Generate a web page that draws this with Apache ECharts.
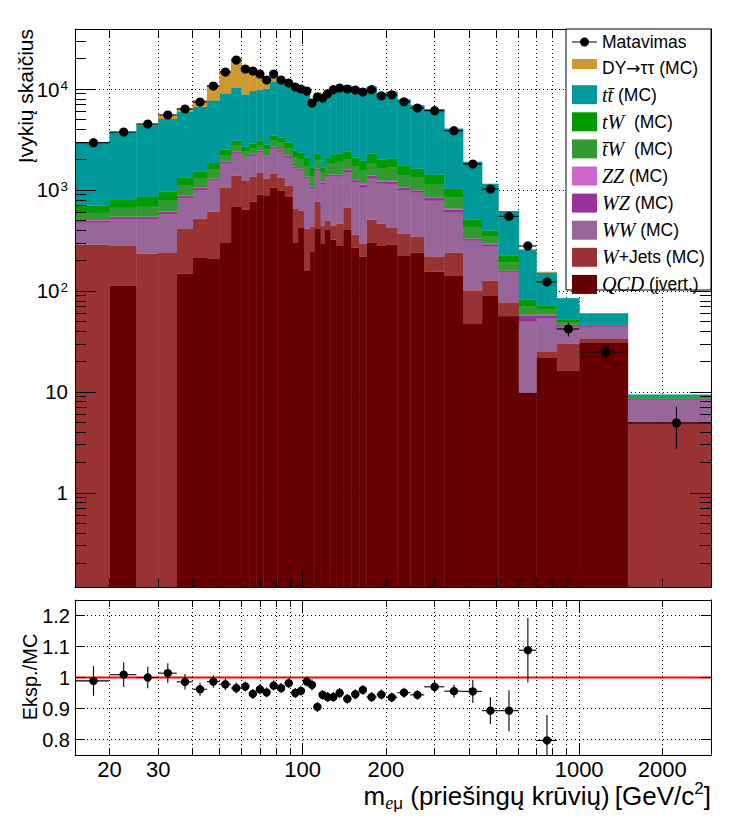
<!DOCTYPE html>
<html><head><meta charset="utf-8">
<script src="https://cdn.jsdelivr.net/npm/echarts@6/dist/echarts.min.js"></script>
<style>html,body{margin:0;padding:0;background:#fff}#c{width:748px;height:822px}</style>
</head><body><div id="c"></div>
<script>
// ---- bin edges (GeV/c^2) ----
const binEdges = [15,20,25,30,35,40,45,50,55,60,64,68,72,76,81,86,92,96,101,106,110,116,120,126,132,140,150,160,170,185,200,220,245,275,325,380,445,510,605,700,830,1000,1500,3000];

// ---- stacked MC components (events per bin) ----
const qcd = [0,113,0,0,148,214,209,301,684,638,766,897,879,1054,984,859,301,424,159,245,414,294,405,322,281,405,268,218,301,281,287,224,239,155,142,47,90,56,9.8,21.9,16.3,30.8,0];
const wjets = [287,168,234,240,266,306,401,753,703,598,589,586,415,398,340,245,352,200,255,188,352,149,92,121,182,263,93,76,207,182,137,145,106,64,97,54,36,21,0,3.2,13.8,2.9,5.08];
const wwv = [187,235,282,338,420,480,626,778,899,806,833,856,844,1112,1069,985,973,928,880,597,786,687,858,912,892,839,838,768,795,690,706,622,595,570,357,214,149,75,39.9,28.1,14.2,10.3,3.31];
const wzv = [23,21,21,24,34,40,43,65,80,61,74,82,37,91,85,74,57,55,46,37,55,58,48,48,48,61,50,68,70,62,80,53,38,42,43,11,14,5,7.5,4,1.6,0.7,0.1];
const zzv = [8,7,7,8,11,14,15,22,27,20,24,28,13,30,28,25,19,19,15,12,19,20,16,16,16,21,16,23,23,21,26,18,13,14,14,4,5,2,1,1,0.5,0.3,0.05];
const tbarW = [95,129,140,173,225,240,295,294,355,270,278,299,318,391,432,376,387,369,347,276,324,275,401,401,480,406,437,399,424,390,427,325,333,282,186,94,51,32,11.8,7.1,2.1,0.4,0.2];
const tWv = [99,129,175,179,220,224,260,293,328,292,307,328,306,375,358,374,360,344,387,308,336,180,269,419,387,398,387,398,466,369,379,355,302,289,191,84,50,33,12,6.2,3.5,1.0,0.25];
const ttbar = [2274,2915,3526,4085,4633,5165,5842,6514,7224,6105,6635,6651,7257,8325,7976,8462,8572,8110,7587,5786,6679,6970,7495,8263,8482,8348,8239,7769,8216,7063,7317,6123,5249,4873,3013,1385,751,390,174,80.5,32.3,13.2,0.36];
const dytautau = [0,0,115,407,473,1040,3150,6041,9741,7461,6408,4909,2830,2680,1440,270,0,0,0,0,250,0,0,0,0,0,0,0,0,0,0,0,0,0,0,0,0,0,0,2,0,0,0];

// ---- data ----
const dataVals = [2940,3750,4500,5530,6340,7430,10700,14730,19360,15780,15070,14080,12280,14080,12280,11460,10470,10000,9550,7270,8340,8150,8980,9840,10230,10000,9770,9330,9840,8560,8760,7480,6490,6100,3865,1808,1023,548,279,123,42,24.9,4.93];
const dataErr = [54,61,67,74,80,86,103,121,139,126,123,119,111,119,111,107,102,100,98,85,91,90,95,99,101,100,99,97,99,93,94,86,81,78,62,43,32,23,17,11,6.5,5,2.2];

// ---- ratio data / MC ----
const ratioVals = [0.989,1.009,1.000,1.014,0.986,0.962,0.987,0.978,0.966,0.971,0.947,0.962,0.952,0.974,0.966,0.982,0.950,0.957,0.987,0.976,0.905,0.944,0.937,0.937,0.950,0.931,0.946,0.960,0.937,0.945,0.936,0.951,0.944,0.970,0.956,0.955,0.893,0.893,1.088,0.797,0.50,0.42,0.54];
const ratioErr = [0.048,0.040,0.035,0.032,0.025,0.021,0.020,0.018,0.018,0.016,0.016,0.016,0.016,0.016,0.016,0.016,0.016,0.016,0.016,0.018,0.016,0.016,0.016,0.016,0.016,0.016,0.016,0.016,0.016,0.016,0.016,0.016,0.016,0.019,0.021,0.037,0.043,0.066,0.104,0.082,0.08,0.09,0.25];

// ---- ticks / labels ----
const xTickValues = [20,30,40,50,60,70,80,90,100,200,300,400,500,600,700,800,900,1000,2000];
const xMajorTicks = [100,1000];
const xTickLabels = [20,30,100,200,1000,2000];
const yMajorTicks = [1,10,100,1000,10000];
const yMinorTicks = [0.2,0.3,0.4,0.5,0.6,0.7,0.8,0.9,2,3,4,5,6,7,8,9,20,30,40,50,60,70,80,90,200,300,400,500,600,700,800,900,2000,3000,4000,5000,6000,7000,8000,9000,20000,30000];
const ratioTicks = [0.8,0.9,1,1.1,1.2];

const XMIN = 15, XMAX = 3000, YMIN = 0.117, YMAX = 39300, RMIN = 0.75, RMAX = 1.25;
const FONT = '"Liberation Sans", Arial, sans-serif';
const SERIF = '"Liberation Serif", "Times New Roman", serif';

const components = [
  {name: 'QCD (įvert.)', vals: qcd, color: '#660000'},
  {name: 'W+Jets (MC)', vals: wjets, color: '#993333'},
  {name: 'WW (MC)', vals: wwv, color: '#996699'},
  {name: 'WZ (MC)', vals: wzv, color: '#993399'},
  {name: 'ZZ (MC)', vals: zzv, color: '#cc66cc'},
  {name: 't\u0304W (MC)', vals: tbarW, color: '#339933'},
  {name: 'tW (MC)', vals: tWv, color: '#009900'},
  {name: 'tt\u0304 (MC)', vals: ttbar, color: '#009999'},
  {name: 'DY→ττ (MC)', vals: dytautau, color: '#cc9933'}
];
const legendRich = {
  'Matavimas': '{s|Matavimas}',
  'DY→ττ (MC)': '{s|DY}{a|→}{s|ττ (MC)}',
  'tt\u0304 (MC)': '{m|tt\u0304}{s| (MC)}',
  'tW (MC)': '{m|tW}{s|  (MC)}',
  't\u0304W (MC)': '{m|t\u0304W}{s|  (MC)}',
  'ZZ (MC)': '{m|ZZ}{s| (MC)}',
  'WZ (MC)': '{m|WZ}{s| (MC)}',
  'WW (MC)': '{m|WW}{s| (MC)}',
  'W+Jets (MC)': '{m|W}{s|+Jets (MC)}',
  'QCD (įvert.)': '{m|QCD}{s| (įvert.)}'
};
const legendOrder = ['Matavimas','DY→ττ (MC)','tt\u0304 (MC)','tW (MC)','t\u0304W (MC)','ZZ (MC)','WZ (MC)','WW (MC)','W+Jets (MC)','QCD (įvert.)'];

const nb = binEdges.length - 1;
const cum = new Array(nb).fill(0);
const series = [];

function histRender(color) {
  return function (params, api) {
    const lo = api.value(0), hi = api.value(1), b = api.value(2), t = api.value(3);
    if (!(t > b)) return null;
    const cs = params.coordSys;
    const p1 = api.coord([lo, t]);
    const p2 = api.coord([hi, b]);
    const y1 = Math.max(p1[1], cs.y);
    const y2 = Math.min(p2[1], cs.y + cs.height);
    if (!(y2 > y1)) return null;
    return {type: 'rect', shape: {x: p1[0], y: y1 - 0.3, width: p2[0] - p1[0] + 0.4, height: y2 - y1 + 0.3},
            style: {fill: color, stroke: null}};
  };
}

components.forEach(c => {
  const rows = c.vals.map((v, i) => {
    const b = cum[i];
    const t = b + v;
    cum[i] = t;
    return [binEdges[i], binEdges[i + 1], Math.max(b, 0.01), Math.max(t, 0.01)];
  });
  series.push({
    type: 'custom', name: c.name, xAxisIndex: 0, yAxisIndex: 0, z: 2, silent: true,
    itemStyle: {color: c.color},
    encode: {x: [0, 1], y: [2, 3]},
    data: rows,
    renderItem: histRender(c.color)
  });
});

function pointRender(radius, floorVal) {
  return function (params, api) {
    const lo = api.value(0), hi = api.value(1), v = api.value(2), e = api.value(3);
    const cs = params.coordSys;
    const xc = (lo + hi) / 2;
    const c = api.coord([xc, v]);
    if (!isFinite(c[1]) || c[1] < cs.y - 0.5 || c[1] > cs.y + cs.height + 0.5) return null;
    const xl = api.coord([lo, v])[0], xh = api.coord([hi, v])[0];
    const clampY = y => Math.min(Math.max(y, cs.y), cs.y + cs.height);
    const yt = clampY(api.coord([xc, v + e])[1]);
    const yb = clampY(api.coord([xc, Math.max(v - e, floorVal)])[1]);
    const ls = {stroke: '#000', lineWidth: 1.1};
    return {type: 'group', children: [
      {type: 'line', shape: {x1: xl, y1: c[1], x2: xh, y2: c[1]}, style: ls},
      {type: 'line', shape: {x1: c[0], y1: yt, x2: c[0], y2: yb}, style: ls},
      {type: 'circle', shape: {cx: c[0], cy: c[1], r: radius}, style: {fill: '#000'}}
    ]};
  };
}

series.push({
  type: 'custom', name: 'Matavimas', xAxisIndex: 0, yAxisIndex: 0, z: 4, silent: true,
  itemStyle: {color: '#000'},
  encode: {x: [0, 1], y: 2},
  data: dataVals.map((v, i) => [binEdges[i], binEdges[i + 1], v, dataErr[i]]),
  renderItem: pointRender(4.6, 0.01)
});

series.push({
  type: 'line', name: 'ratio1', xAxisIndex: 5, yAxisIndex: 5, z: 3, silent: true,
  symbol: 'none', data: [[XMIN, 1], [XMAX, 1]],
  lineStyle: {color: '#ff0000', width: 2}
});
series.push({
  type: 'custom', name: 'Santykis', xAxisIndex: 5, yAxisIndex: 5, z: 4, silent: true,
  itemStyle: {color: '#000'},
  encode: {x: [0, 1], y: 2},
  data: ratioVals.map((v, i) => [binEdges[i], binEdges[i + 1], v, ratioErr[i]]),
  renderItem: pointRender(4.2, 0)
});

// ---- axes ----
function logX(grid) {
  return {type: 'log', logBase: 10, gridIndex: grid, min: XMIN, max: XMAX,
          axisLine: {show: false, onZero: false}, axisTick: {show: false}, axisLabel: {show: false}, splitLine: {show: false}};
}
function logY() {
  return {type: 'log', logBase: 10, gridIndex: 0, min: YMIN, max: YMAX,
          axisLine: {show: false, onZero: false}, axisTick: {show: false}, axisLabel: {show: false}, splitLine: {show: false}};
}
function linY() {
  return {type: 'value', gridIndex: 1, min: RMIN, max: RMAX,
          axisLine: {show: false, onZero: false}, axisTick: {show: false}, axisLabel: {show: false}, splitLine: {show: false}};
}
const dotted = {show: true, lineStyle: {color: '#000', width: 1, type: [1, 3]}};
function tickAx(base, position, values, len, line) {
  return Object.assign(base, {
    position: position, z: 10,
    axisLine: {show: !!line, onZero: false, lineStyle: {color: '#000', width: 1}},
    axisTick: {show: true, inside: true, length: len, customValues: values, lineStyle: {color: '#000', width: 1}}
  });
}

const xAxes = [
  Object.assign(logX(0), {position: 'bottom', z: 0, axisTick: {show: false, customValues: xTickValues}, splitLine: dotted}),
  tickAx(logX(0), 'bottom', xTickValues, 8, true),
  tickAx(logX(0), 'bottom', xMajorTicks, 15, false),
  tickAx(logX(0), 'top', xTickValues, 8, true),
  tickAx(logX(0), 'top', xMajorTicks, 15, false),
  Object.assign(logX(1), {position: 'bottom', z: 0, axisTick: {show: false, customValues: xTickValues}, splitLine: dotted,
    axisLabel: {show: true, customValues: xTickLabels, formatter: v => String(v), fontSize: 22, fontFamily: FONT, color: '#000', margin: 3}}),
  tickAx(logX(1), 'bottom', xTickValues, 7, true),
  tickAx(logX(1), 'bottom', xMajorTicks, 12, false),
  tickAx(logX(1), 'top', xTickValues, 7, true),
  tickAx(logX(1), 'top', xMajorTicks, 12, false)
];
const yAxes = [
  Object.assign(logY(), {position: 'left', z: 0, axisTick: {show: false, customValues: yMajorTicks},
    splitLine: dotted,
    axisLabel: {show: true, customValues: yMajorTicks, margin: 7, color: '#000', fontSize: 20.5, fontFamily: FONT,
      formatter: v => v >= 100 ? '10{sup|' + Math.round(Math.log10(v)) + '}' : String(v),
      rich: {sup: {fontSize: 13.5, fontFamily: FONT, color: '#000', verticalAlign: 'top', lineHeight: 12, padding: [0, 0, 0, 1]}}}}),
  tickAx(logY(), 'left', yMajorTicks, 21, true),
  tickAx(logY(), 'left', yMinorTicks, 11, false),
  tickAx(logY(), 'right', yMajorTicks, 21, true),
  tickAx(logY(), 'right', yMinorTicks, 11, false),
  Object.assign(linY(), {position: 'left', z: 0, axisTick: {show: false, customValues: ratioTicks}, splitLine: dotted,
    axisLabel: {show: true, customValues: ratioTicks, margin: 5, color: '#000', fontSize: 20, fontFamily: FONT,
      formatter: v => (Math.abs(v - 1) < 1e-9 ? '1' : v.toFixed(1))}}),
  tickAx(linY(), 'left', ratioTicks, 10, true),
  tickAx(linY(), 'right', ratioTicks, 10, true)
];

const dataIcon = 'path://M0,0h0.01v0.01h-0.01z M24.99,18.99h0.01v0.01h-0.01z M0,9h8.5v1.1h-8.5z M16.5,9h8.5v1.1h-8.5z M17,9.5a4.5,4.5 0 1,1 -9,0a4.5,4.5 0 1,1 9,0z';
const dyIcon = 'path://M0,0h0.01v0.01h-0.01z M24.99,18.99h0.01v0.01h-0.01z M0,0.5h25v10h-25z';

const option = {
  backgroundColor: '#fff',
  animation: false,
  grid: [
    {left: 75, top: 29, width: 636, height: 558},
    {left: 75, top: 600, width: 636, height: 155}
  ],
  xAxis: xAxes,
  yAxis: yAxes,
  legend: {
    left: 566, top: 29, orient: 'vertical', z: 12, selectedMode: false,
    padding: [3.5, 4, 3, 6], itemWidth: 25, itemHeight: 19, itemGap: 7.1,
    data: legendOrder.map(n => ({name: n, icon: n === 'Matavimas' ? dataIcon : (n === 'DY→ττ (MC)' ? dyIcon : 'rect')})),
    formatter: n => legendRich[n] || n,
    textStyle: {fontFamily: FONT, fontSize: 17.5, color: '#000', lineHeight: 19,
      rich: {
        s: {fontFamily: FONT, fontSize: 17.5, color: '#000', lineHeight: 19},
        a: {fontFamily: '"DejaVu Sans", sans-serif', fontSize: 17, color: '#000', lineHeight: 19},
        m: {fontFamily: SERIF, fontStyle: 'italic', fontSize: 20, color: '#000', lineHeight: 19}
      }}
  },
  graphic: [
    {type: 'rect', z: 11, shape: {x: 566, y: 29, width: 145, height: 261}, style: {fill: '#fff', stroke: '#000', lineWidth: 1}},
    {type: 'text', z: 20, x: 25, y: 29, rotation: Math.PI / 2,
     style: {text: 'Įvykių skaičius', fontSize: 21, fontFamily: FONT, fill: '#000', textAlign: 'right', textVerticalAlign: 'middle', verticalAlign: 'middle'}},
    {type: 'text', z: 20, x: 30, y: 677, rotation: Math.PI / 2,
     style: {text: 'Eksp./MC', fontSize: 20, fontFamily: FONT, fill: '#000', textAlign: 'center', textVerticalAlign: 'middle', verticalAlign: 'middle'}},
    {type: 'text', z: 20, x: 711, y: 796,
     style: {text: '{n|m}{sub|e}{subg|μ}{n| (priešingų krūvių)\u2009[GeV/c}{sup|2}{n|]}',
       textAlign: 'right', textVerticalAlign: 'middle', verticalAlign: 'middle', fill: '#000',
       rich: {
         n: {fontSize: 26, fontFamily: FONT, fill: '#000', lineHeight: 32, verticalAlign: 'middle'},
         sub: {fontSize: 18, fontFamily: SERIF, fontStyle: 'italic', fill: '#000', lineHeight: 15, verticalAlign: 'bottom'},
         subg: {fontSize: 17, fontFamily: FONT, fill: '#000', lineHeight: 15, verticalAlign: 'bottom'},
         sup: {fontSize: 17, fontFamily: FONT, fill: '#000', lineHeight: 15, verticalAlign: 'top'}
       }}}
  ],
  series: series
};

const chart = echarts.init(document.getElementById('c'), null, {renderer: 'svg', width: 748, height: 822});
chart.setOption(option);
</script>
</body></html>
